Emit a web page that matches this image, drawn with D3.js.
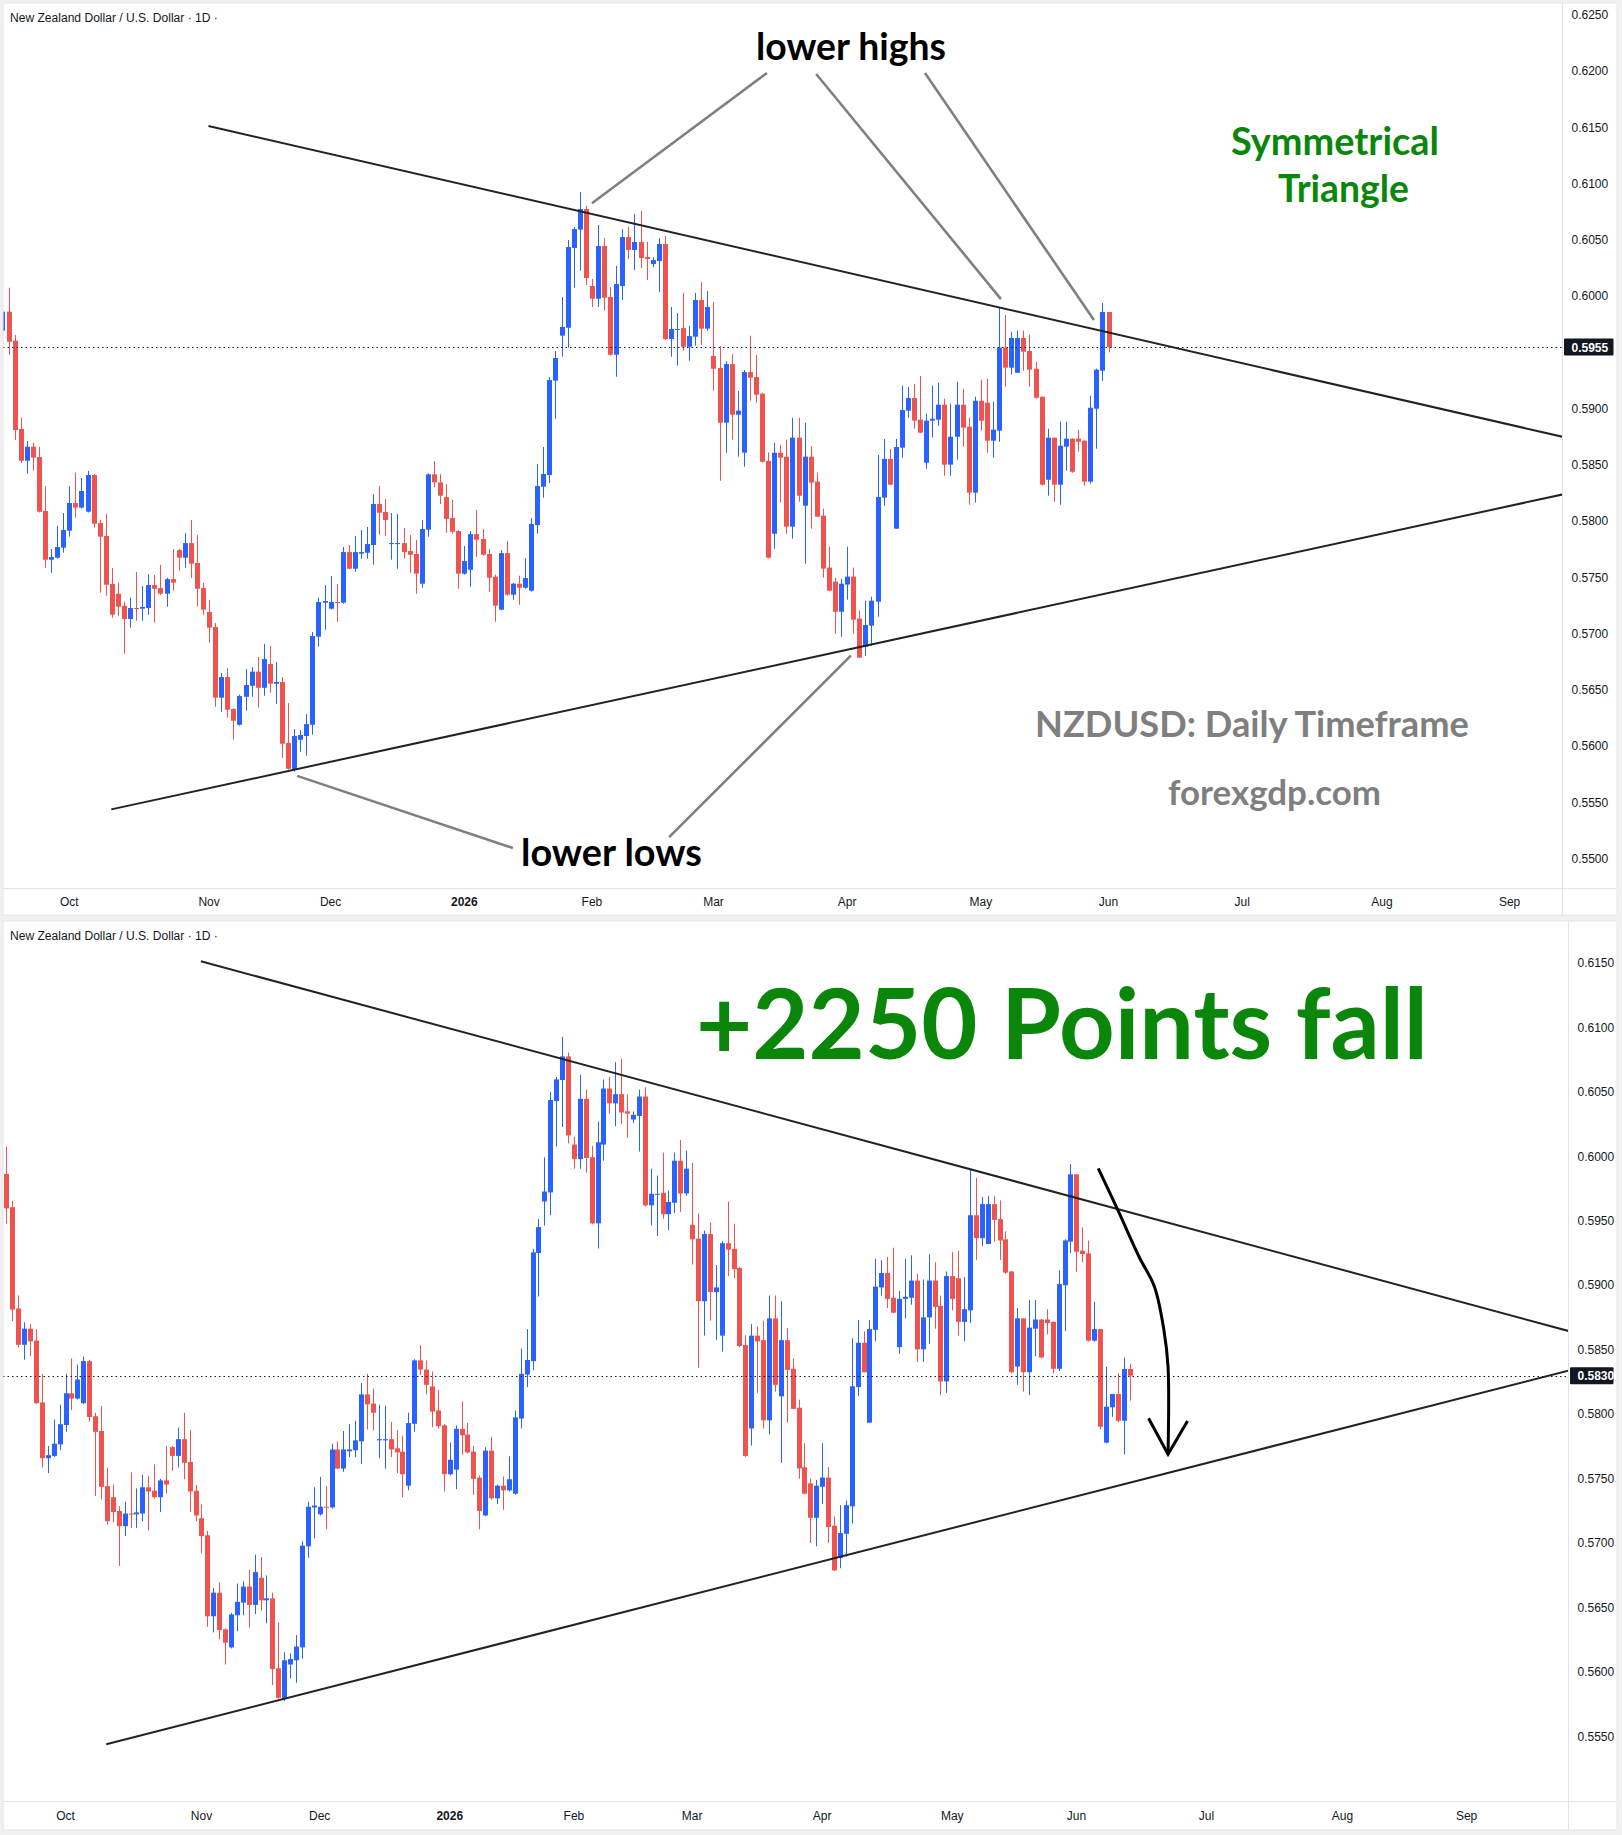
<!DOCTYPE html>
<html>
<head>
<meta charset="utf-8">
<script src="https://cdn.jsdelivr.net/npm/d3@7"></script>
<style>
  html, body { margin: 0; padding: 0; background: #f1f1f1; }
  svg { display: block; }
</style>
</head>
<body>
<svg id="chart" width="1622" height="1835"></svg>
<script>
// NZDUSD daily candles, 16 Sep 2025 -> 12 Jun 2026
const startDate = "2025-09-16";
const endDate = "2026-09-30";
const holidays = ["2025-12-25", "2026-01-01"];

const opens = [
  .59696,.59865,.59607,.58822,.58540,.58665,.58573,.58093,.57660,.57678,.57767,
  .57918,.58164,.58123,.58087,.58413,.57986,.57871,.57444,.57358,.57251,.57133,.57231,.57225,.57231,.57435,.57408,.57358,.57488,.57746,.57678,
  .57808,.57631,.57408,.57195,.57062,.56434,.56617,.56333,.56193,.56442,.56540,.56665,.56522,.56733,.56558,.56573,.56031,.55793,.56060,.56093,
  .56193,.56976,.57278,.57225,.57284,.57278,.57728,.57580,.57714,.57722,.57791,.58155,.58084,.57799,.57799,.57808,.57737,.57711,.57447,.57927,
  .58419,.58348,.58217,.58031,.57915,.57536,.57571,.57888,.57844,.57711,.57509,.57216,.57719,.57349,.57447,.57411,.57385,.57968,.58309,.58413,
  .59252,.59652,.59722,.60431,.60594,.60777,.60093,.59980,.60448,.59995,.59482,.60093,.60528,.60413,.60484,.60351,.60288,.60315,.60466,.59622,
  .59706,.59719,.59553,.59642,.59968,.59714,.59471,.59364,.58878,.59399,.58949,.58611,.59328,.59284,.59136,.58538,.57891,.58611,.58576,.57954,
  .58745,.58140,.58576,.58354,.58052,.57590,.57465,.57198,.57439,.57510,.57136,.56887,.57074,.57287,.58212,.58556,.57936,.58656,.58985,.59097,
  .58905,.58522,.58896,.58905,.59038,.58505,.58753,.59038,.58842,.58256,.59073,.59056,.58718,.58807,.59545,.59367,.59322,.59631,.59515,.59358,
  .59109,.58371,.58745,.58327,.58665,.58736,.58736,.58718,.58354,.59002,.59340,.59862,.59270,.59249,.58572,.58662,.57781,.58055,.58158,.57951,
  .58352
];
const highs = [
  .60080,.60078,.59657,.58923,.58715,.58700,.58662,.58315,.57755,.57960,.58075,
  .58315,.58434,.58386,.58449,.58422,.58013,.58066,.57586,.57456,.57287,.57322,.57551,.57426,.57533,.57524,.57613,.57500,.57755,.57755,.57897,
  .58013,.57879,.57453,.57302,.57097,.56653,.56697,.56340,.56460,.56688,.56706,.56795,.56911,.56893,.56751,.56617,.56386,.56155,.56146,.56288,
  .57017,.57322,.57435,.57515,.57444,.57773,.57791,.57871,.57924,.57951,.58244,.58315,.58199,.58075,.58066,.57942,.57879,.57835,.58013,.58428,
  .58537,.58419,.58333,.58191,.57924,.57782,.57915,.58102,.57933,.57755,.57527,.57746,.57826,.57455,.57518,.57675,.58031,.58511,.58662,.59284,
  .59515,.59995,.60502,.60617,.60928,.60807,.60155,.60635,.60519,.60084,.60271,.60599,.60617,.60733,.60760,.60484,.60350,.60519,.60537,.59906,
  .59853,.60031,.59737,.60031,.60128,.60048,.59951,.59559,.59426,.59488,.59159,.59346,.59651,.59479,.59145,.58615,.58700,.58682,.58727,.58922,
  .58922,.58878,.58668,.58434,.58114,.57776,.57501,.57492,.57776,.57590,.57207,.57296,.57332,.58591,.58733,.58644,.58733,.59207,.59195,.59222,
  .59293,.58958,.59207,.59234,.59091,.59047,.59242,.59180,.58922,.59109,.59260,.59269,.59065,.59906,.59835,.59687,.59696,.59696,.59660,.59420,
  .59110,.58825,.58745,.58887,.58887,.58740,.58816,.58720,.59118,.59358,.59942,.59862,.59451,.59348,.58872,.58662,.58370,.58160,.58318,.58440,
  .58391
];
const lows = [
  .59650,.59480,.58724,.58520,.58425,.58452,.58080,.57589,.57545,.57670,.57723,
  .57865,.58034,.58115,.58080,.57945,.57367,.57340,.57145,.57162,.56825,.57056,.57118,.57118,.57171,.57100,.57346,.57242,.57385,.57562,.57589,
  .57497,.57242,.57171,.56922,.56353,.56309,.56256,.56060,.56185,.56318,.56442,.56345,.56451,.56478,.56380,.55900,.55795,.55776,.55953,.55918,
  .56105,.56887,.57038,.57216,.57109,.57270,.57575,.57554,.57669,.57669,.57616,.57882,.57874,.57660,.57580,.57669,.57545,.57358,.57411,.57865,
  .58306,.58155,.57900,.57891,.57402,.57527,.57420,.57687,.57696,.57376,.57109,.57210,.57340,.57305,.57260,.57402,.57376,.57891,.58212,.58342,
  .58914,.59465,.59545,.60078,.60229,.60102,.59906,.59906,.59874,.59475,.59287,.59968,.60333,.60235,.60253,.60146,.60260,.60039,.59613,.59465,
  .59385,.59518,.59429,.59562,.59571,.59696,.59162,.58362,.58611,.58727,.58576,.58487,.59073,.59056,.58522,.57670,.57758,.58167,.57891,.57847,
  .58176,.57625,.57936,.58040,.57501,.57380,.57003,.56976,.57305,.57003,.56785,.56807,.56896,.57154,.58141,.58327,.57936,.58567,.58922,.58825,
  .58784,.58469,.58745,.58851,.58407,.58407,.58549,.58665,.58149,.58167,.58807,.58611,.58567,.58709,.59198,.59305,.59322,.59340,.59198,.59091,
  .58320,.58229,.58176,.58149,.58451,.58433,.58620,.58318,.58336,.58647,.59251,.59107,.59180,.58565,.58564,.57884,.57775,.57982,.57940,.57690,
  .58106
];
const closes = [
  .59865,.59598,.58813,.58540,.58665,.58567,.58087,.57660,.57684,.57773,.57924,
  .58164,.58123,.58271,.58413,.57980,.57865,.57438,.57172,.57243,.57133,.57231,.57225,.57240,.57435,.57402,.57358,.57488,.57456,.57678,.57808,
  .57625,.57402,.57216,.57056,.56434,.56617,.56327,.56229,.56448,.56546,.56665,.56522,.56777,.56558,.56573,.56025,.55802,.56093,.56102,.56199,
  .56982,.57284,.57293,.57284,.57278,.57728,.57580,.57728,.57728,.57799,.58155,.58078,.58013,.57808,.57808,.57728,.57705,.57536,.57933,.58419,
  .58348,.58229,.58022,.57909,.57536,.57648,.57888,.57838,.57705,.57500,.57251,.57719,.57349,.57447,.57411,.57497,.57977,.58315,.58422,.59257,
  .59453,.59729,.60439,.60599,.60777,.60164,.59980,.60448,.59989,.59482,.60111,.60528,.60413,.60484,.60342,.60333,.60324,.60466,.59622,.59711,
  .59711,.59553,.59648,.59968,.59714,.59906,.59358,.58878,.59399,.58949,.58985,.59328,.59278,.59127,.58531,.57678,.58611,.58567,.57954,.58745,
  .58229,.58576,.58345,.58043,.57581,.57385,.57198,.57447,.57510,.57127,.56790,.57080,.57296,.58218,.58556,.58327,.58662,.58991,.59097,.58896,
  .58789,.58896,.58913,.59038,.58505,.58753,.59038,.58834,.58256,.59073,.58896,.58718,.58816,.59545,.59367,.59631,.59631,.59509,.59349,.59100,
  .58327,.58745,.58327,.58673,.58736,.58442,.58709,.58354,.59011,.59349,.59862,.59262,.59244,.58572,.58662,.57905,.58060,.58158,.57951,.58352,
  .58300
];

// the upper screenshot was taken during 1 Jun, before that bar closed
const topLastBar = { date: "2026-06-01", close: 0.5955, low: 0.59503 };

const monthLabels = ["Oct", "Nov", "Dec", "2026", "Feb", "Mar", "Apr", "May", "Jun", "Jul", "Aug", "Sep"];
const monthKeys = ["2025-10", "2025-11", "2025-12", "2026-01", "2026-02", "2026-03", "2026-04", "2026-05", "2026-06", "2026-07", "2026-08", "2026-09"];

const topTicks = d3.range(0.5500, 0.62501, 0.005);
const bottomTicks = d3.range(0.5550, 0.61501, 0.005);

// drawn lines, as [date index, price]
const upperTrend = [[33.9, 0.61515], [291, 0.58328]];
const lowerTrend = [[17.9, 0.55441], [291, 0.58642]];
const highLeaders = [
  [[125.8, 0.61986], [97.0, 0.60828]],
  [[133.9, 0.61977], [164.3, 0.59977]],
  [[151.8, 0.61986], [179.6, 0.59791]]
];
const lowLeaders = [
  [[48.5, 0.55739], [84.0, 0.55097]],
  [[109.7, 0.55195], [139.6, 0.56807]]
];
const arrowPath = [[185.7, 0.59909], [189.0, 0.59586], [192.6, 0.59223], [195.2, 0.58991],
                   [196.8, 0.58655], [197.5, 0.58370], [197.5, 0.57691]];
const arrowHead = [[194.2, 0.57970], [197.5, 0.57691], [200.8, 0.57949]];

// ---------------------------------------------------------------
function tradingDays(from, to, skip) {
  const out = [];
  const end = new Date(to + "T00:00:00Z");
  for (let d = new Date(from + "T00:00:00Z"); d <= end; d.setUTCDate(d.getUTCDate() + 1)) {
    const wd = d.getUTCDay();
    const iso = d.toISOString().slice(0, 10);
    if (wd === 0 || wd === 6 || skip.includes(iso)) continue;
    out.push(iso);
  }
  return out;
}
const days = tradingDays(startDate, endDate, holidays);
const kOct = days.indexOf("2025-10-01");
const kJun = days.indexOf("2026-06-01");

const bars = closes.map((c, k) => ({ k, date: days[k], o: opens[k], h: highs[k], l: lows[k], c }));

const UP = "#2962ff", DOWN = "#ef5350", TXT = "#131722", GRID = "#e0e3eb";
const svg = d3.select("#chart");

svg.append("rect").attr("width", 1622).attr("height", 1835).attr("fill", "#f1f1f1");

const panels = [
  { id: "top", left: 3, top: 3, right: 1617, bottom: 915, axisX: 1562.5, axisY: 888.5,
    xRange: [69.3, 1108.5], yDomain: [0.5500, 0.6250], yRange: [859, 15.2], ticks: topTicks,
    lastDate: "2026-06-01", price: 0.5955, titleY: 22 },
  { id: "bottom", left: 3, top: 921, right: 1617, bottom: 1830, axisX: 1568.5, axisY: 1801.5,
    xRange: [65.5, 1076.4], yDomain: [0.5550, 0.6150], yRange: [1736.7, 963.2], ticks: bottomTicks,
    lastDate: "2026-06-12", price: 0.5830, titleY: 940 }
];

function fitText(sel, width) {
  const size = +sel.attr("font-size");
  const w = sel.node().getComputedTextLength();
  sel.attr("font-size", (size * width / w).toFixed(2));
}

function drawPanel(p) {
  const g = svg.append("g").attr("class", p.id);
  const x = d3.scaleLinear().domain([kOct, kJun]).range(p.xRange);
  const y = d3.scaleLinear().domain(p.yDomain).range(p.yRange);
  p.x = x; p.y = y; p.g = g;

  g.append("rect")
    .attr("x", p.left).attr("y", p.top)
    .attr("width", p.right - p.left).attr("height", p.bottom - p.top)
    .attr("fill", "#fff").attr("stroke", "#e6e6e6");

  const clipId = "clip-" + p.id;
  svg.append("clipPath").attr("id", clipId).append("rect")
    .attr("x", p.left + 0.5).attr("y", p.top)
    .attr("width", p.axisX - p.left - 0.5).attr("height", p.axisY - p.top);
  const plot = g.append("g").attr("clip-path", `url(#${clipId})`);
  p.plot = plot;

  // axes frames
  g.append("line").attr("x1", p.axisX).attr("x2", p.axisX)
    .attr("y1", p.top).attr("y2", p.bottom).attr("stroke", GRID);
  g.append("line").attr("x1", p.left).attr("x2", p.right)
    .attr("y1", p.axisY).attr("y2", p.axisY).attr("stroke", GRID);

  // candles
  const last = days.indexOf(p.lastDate);
  const data = bars.slice(0, last + 1).map(b => ({ ...b }));
  if (p.id === "top") {
    const b = data[data.length - 1];
    b.c = topLastBar.close; b.l = topLastBar.low;
  }
  const cg = plot.append("g").selectAll("g").data(data).join("g")
    .attr("fill", d => d.c >= d.o ? UP : DOWN)
    .attr("stroke", d => d.c >= d.o ? UP : DOWN);
  cg.append("line")
    .attr("x1", d => Math.round(x(d.k)) + 0.5).attr("x2", d => Math.round(x(d.k)) + 0.5)
    .attr("y1", d => y(d.h)).attr("y2", d => y(d.l))
    .attr("stroke-width", 1);
  cg.append("rect")
    .attr("x", d => Math.round(x(d.k)) - 2)
    .attr("width", 5)
    .attr("y", d => y(Math.max(d.o, d.c)))
    .attr("height", d => Math.max(1, Math.abs(y(d.o) - y(d.c))))
    .attr("stroke", "none");

  // price axis (a tick hidden behind the last-price label is skipped)
  const shown = p.ticks.filter(t => Math.abs(y(t) - y(p.price)) > 14);
  const ya = g.append("g").attr("font-family", "'Liberation Sans', Arial, sans-serif")
    .attr("font-size", 12).attr("fill", TXT);
  ya.selectAll("text").data(shown).join("text")
    .attr("x", p.axisX + 9).attr("y", d => y(d) + 4)
    .text(d => d3.format(".4f")(d));

  // time axis
  const ticks = monthKeys.map((m, i) => ({ label: monthLabels[i], k: days.findIndex(d => d.startsWith(m)) }));
  g.append("g").selectAll("text").data(ticks).join("text")
    .attr("x", d => x(d.k)).attr("y", (p.axisY + p.bottom) / 2 + 4)
    .attr("text-anchor", "middle")
    .attr("font-family", "'Liberation Sans', Arial, sans-serif")
    .attr("font-size", 12)
    .attr("font-weight", d => d.label === "2026" ? "bold" : "normal")
    .attr("fill", TXT)
    .text(d => d.label);

  // last price line and label
  plot.append("line")
    .attr("x1", p.left).attr("x2", p.axisX)
    .attr("y1", Math.round(y(p.price)) + 0.5).attr("y2", Math.round(y(p.price)) + 0.5)
    .attr("stroke", TXT).attr("stroke-dasharray", "1.5,3");
  g.append("rect")
    .attr("x", p.axisX + 1.5).attr("y", y(p.price) - 8.5)
    .attr("width", p.right - p.axisX - 5).attr("height", 17)
    .attr("rx", 1).attr("fill", TXT);
  g.append("text")
    .attr("x", p.axisX + 9).attr("y", y(p.price) + 4.5)
    .attr("font-family", "'Liberation Sans', Arial, sans-serif")
    .attr("font-size", 12).attr("font-weight", "bold").attr("fill", "#fff")
    .text(d3.format(".4f")(p.price));

  // title
  const title = g.append("text")
    .attr("x", 10).attr("y", p.titleY)
    .attr("font-family", "'Liberation Sans', Arial, sans-serif")
    .attr("font-size", 11.5).attr("fill", TXT)
    .text("New Zealand Dollar / U.S. Dollar \u00b7 1D \u00b7");
  fitText(title, 208);

  // triangle lines
  const line = d3.line().x(d => x(d[0])).y(d => y(d[1]));
  [upperTrend, lowerTrend].forEach(t => {
    plot.append("path").attr("d", line(t))
      .attr("fill", "none").attr("stroke", "#222").attr("stroke-width", 2);
  });
}

panels.forEach(drawPanel);

// ---- annotations, upper chart
const topPanel = panels[0];
const tLine = d3.line().x(d => topPanel.x(d[0])).y(d => topPanel.y(d[1]));
highLeaders.concat(lowLeaders).forEach(l => {
  topPanel.g.append("path").attr("d", tLine(l))
    .attr("fill", "none").attr("stroke", "#808080").attr("stroke-width", 2.6);
});

const labels = [
  { g: topPanel.g, text: "lower highs", x: 756, y: 60, w: 190, fill: "#000" },
  { g: topPanel.g, text: "lower lows", x: 521, y: 866, w: 181, fill: "#000" },
  { g: topPanel.g, text: "Symmetrical", x: 1231, y: 155, w: 208, fill: "#0a870a" },
  { g: topPanel.g, text: "Triangle", x: 1278, y: 202, w: 131, fill: "#0a870a" },
  { g: topPanel.g, text: "NZDUSD: Daily Timeframe", x: 1035, y: 737, w: 434, fill: "#7f7f7f" },
  { g: topPanel.g, text: "forexgdp.com", x: 1168, y: 805, w: 213, fill: "#7f7f7f" },
  { g: panels[1].g, text: "+2250 Points fall", x: 696, y: 1059, w: 732, fill: "#0a870a" }
];
labels.forEach(l => {
  const t = l.g.append("text")
    .attr("x", l.x).attr("y", l.y)
    .attr("font-family", "Lato, 'Open Sans', sans-serif")
    .attr("font-weight", "bold").attr("font-size", 40)
    .attr("fill", l.fill)
    .text(l.text);
  fitText(t, l.w);
});

// ---- arrow, lower chart
const botPanel = panels[1];
const bLine = d3.line().x(d => botPanel.x(d[0])).y(d => botPanel.y(d[1]));
botPanel.g.append("path").attr("d", bLine.curve(d3.curveCatmullRom)(arrowPath))
  .attr("fill", "none").attr("stroke", "#000").attr("stroke-width", 3);
botPanel.g.append("path").attr("d", d3.line().x(d => botPanel.x(d[0])).y(d => botPanel.y(d[1]))(arrowHead))
  .attr("fill", "none").attr("stroke", "#000").attr("stroke-width", 3);
</script>
</body>
</html>
